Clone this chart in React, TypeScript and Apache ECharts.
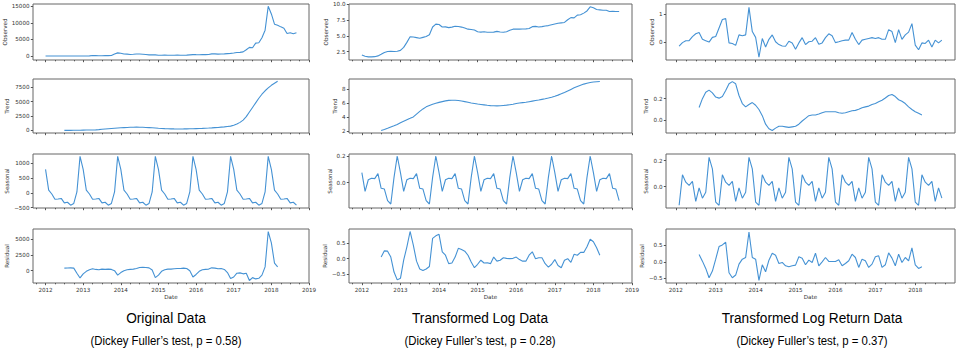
import React, { useEffect, useRef } from "react";
import * as echarts from "echarts";

// ---------- DATA (monthly, index 0 = Jan 2012) ----------
const yearTicksFull = [2012, 2013, 2014, 2015, 2016, 2017, 2018, 2019];
const yearTicksShort = [2012, 2013, 2014, 2015, 2016, 2017, 2018];
const quarterTicks = [
  2011.75, 2012.25, 2012.5, 2012.75, 2013.25, 2013.5, 2013.75, 2014.25, 2014.5, 2014.75,
  2015.25, 2015.5, 2015.75, 2016.25, 2016.5, 2016.75, 2017.25, 2017.5, 2017.75, 2018.25,
  2018.5, 2018.75,
];

// Original data (starts Jan 2012)
const origObserved = [
  6.5, 5.5, 5.0, 5.0, 5.1, 6.0, 8.5, 11.5, 12, 12, 11.5, 13,
  16, 26, 55, 140, 120, 105, 90, 115, 130, 160, 600, 950,
  850, 620, 580, 460, 520, 620, 610, 530, 450, 360, 365, 340,
  250, 235, 265, 235, 235, 240, 280, 255, 235, 265, 350, 425,
  410, 400, 415, 430, 460, 640, 660, 580, 605, 640, 720, 800,
  900, 1050, 1100, 1250, 1900, 2600, 2500, 3900, 4000, 5500, 7800, 15000,
  12700, 9600, 9300, 8800, 8400, 6800, 7000, 6700, 7000,
];
// starts Jul 2012
const origTrend = [
  10, 12, 15, 20, 30, 40,
  55, 65, 75, 85, 100, 140, 190, 240, 290, 340, 380, 420,
  460, 490, 520, 540, 560, 565, 560, 545, 520, 490, 455, 420,
  380, 345, 315, 290, 270, 260, 255, 255, 260, 270, 285, 300,
  320, 340, 360, 385, 410, 440, 480, 520, 570, 620, 690, 750,
  900, 1100, 1400, 1800, 2400, 3200, 4000, 4800, 5600, 6300, 6900, 7400,
  7850, 8200, 8550,
];
// starts Jan 2012
const origSeasonal = [
  800, 90, -40, -220, -210, -190, -340, -320, -420, -360, 30, 1240,
  800, 90, -40, -220, -210, -190, -340, -320, -420, -360, 30, 1240,
  800, 90, -40, -220, -210, -190, -340, -320, -420, -360, 30, 1240,
  800, 90, -40, -220, -210, -190, -340, -320, -420, -360, 30, 1240,
  800, 90, -40, -220, -210, -190, -340, -320, -420, -360, 30, 1240,
  800, 90, -40, -220, -210, -190, -340, -320, -420, -360, 30, 1240,
  800, 90, -40, -220, -210, -190, -340, -320, -420,
];
// starts Jul 2012
const origResidual = [
  400, 420, 450, 400, -400, -1150,
  -500, -100, 150, 300, 200, 150, 250, 200, 250, 200, 0, -700,
  -300, 0, 150, 200, 250, 350, 500, 550, 500, 450, 100, -1100,
  -700, -100, 150, 250, 250, 300, 350, 350, 400, 350, 0, -1000,
  -600, -100, 150, 200, 250, 450, 400, 300, 350, 200, -300, -1250,
  -1000, -400, -350, -500, -400, -1550, -1100, -1300, -1200, -700, 600, 6200,
  4400, 1200, 600,
];

// Transformed log data (starts Jan 2012)
const logObserved = [
  1.95, 1.75, 1.65, 1.65, 1.68, 1.8, 2.05, 2.35, 2.5, 2.52, 2.5, 2.55,
  2.68, 3.15, 3.95, 4.85, 4.8, 4.7, 4.6, 4.75, 4.9, 5.15, 6.4, 6.85,
  6.8, 6.4, 6.42, 6.3, 6.38, 6.5, 6.48, 6.38, 6.22, 6.05, 6.0, 5.92,
  5.65, 5.58, 5.65, 5.55, 5.55, 5.58, 5.7, 5.6, 5.55, 5.65, 5.88, 6.05,
  6.05, 6.05, 6.07, 6.1, 6.15, 6.45, 6.5, 6.4, 6.45, 6.55, 6.62, 6.75,
  6.88, 6.98, 7.05, 7.12, 7.55, 7.88, 7.85, 8.28, 8.35, 8.6, 8.95, 9.6,
  9.45, 9.18, 9.12, 9.05, 9.05, 8.85, 8.9, 8.85, 8.87,
];
// starts Jul 2012
const logTrend = [
  2.1, 2.25, 2.42, 2.6, 2.78, 2.98,
  3.22, 3.45, 3.66, 3.85, 4.05, 4.45, 4.85, 5.2, 5.5, 5.7, 5.88, 6.02,
  6.14, 6.25, 6.35, 6.42, 6.45, 6.45, 6.4, 6.33, 6.25, 6.15, 6.05, 5.98,
  5.9, 5.84, 5.78, 5.72, 5.68, 5.65, 5.64, 5.66, 5.7, 5.74, 5.8, 5.86,
  5.98, 6.04, 6.1, 6.16, 6.24, 6.32, 6.4, 6.48, 6.57, 6.66, 6.76, 6.88,
  7.02, 7.18, 7.36, 7.56, 7.78, 8.0, 8.22, 8.42, 8.6, 8.76, 8.88, 8.98,
  9.05, 9.1, 9.14,
];
// starts Jan 2012
const logSeasonal = [
  0.075, -0.065, 0.022, 0.033, 0.03, 0.068, -0.042, -0.048, -0.135, -0.16, 0.04, 0.2,
  0.075, -0.065, 0.022, 0.033, 0.03, 0.068, -0.042, -0.048, -0.135, -0.16, 0.04, 0.2,
  0.075, -0.065, 0.022, 0.033, 0.03, 0.068, -0.042, -0.048, -0.135, -0.16, 0.04, 0.2,
  0.075, -0.065, 0.022, 0.033, 0.03, 0.068, -0.042, -0.048, -0.135, -0.16, 0.04, 0.2,
  0.075, -0.065, 0.022, 0.033, 0.03, 0.068, -0.042, -0.048, -0.135, -0.16, 0.04, 0.2,
  0.075, -0.065, 0.022, 0.033, 0.03, 0.068, -0.042, -0.048, -0.135, -0.16, 0.04, 0.2,
  0.075, -0.065, 0.022, 0.033, 0.03, 0.068, -0.042, -0.048, -0.135,
];
// starts Jul 2012
const logResidual = [
  0.05, 0.25, 0.24, 0.05, -0.43, -0.68,
  -0.63, -0.05, 0.38, 0.87, 0.43, -0.08, -0.33, -0.38, -0.33, -0.25, 0.65, 0.73,
  0.78, 0.22, 0.11, -0.16, -0.14, 0.05, 0.33, 0.29, 0.24, 0.11, -0.11, -0.29,
  -0.18, -0.05, -0.14, -0.13, -0.16, 0.05, -0.08, -0.05, 0.03, 0.01, 0, 0.01,
  0.05, -0.03, -0.08, -0.08, 0.11, 0.22, 0, 0.03, 0.03, -0.16, -0.27, -0.18,
  -0.03, -0.22, -0.29, -0.05, 0, -0.12, 0.14, 0.11, 0.2, 0.2, 0.38, 0.62,
  0.54, 0.35, 0.11,
];

// Transformed log return data (starts Feb 2012)
const retObserved = [
  -0.16, -0.03, 0.04, 0.04, 0.19, 0.29, 0.34, 0.09, 0.04, -0.01, 0.16,
  0.19, 0.5, 0.81, 0.84, -0.04, -0.06, -0.13, 0.25, 0.22, 0.25, 1.25, 0.37,
  0.16, -0.56, 0.12, -0.19, 0.09, 0.25, 0, -0.1, -0.15, -0.16, 0.02, -0.04,
  -0.27, -0.04, 0.15, -0.1, 0, 0.02, 0.15, -0.09, -0.04, 0.15, 0.29, 0.22,
  -0.03, 0, 0.04, 0.06, 0.06, 0.34, 0.09, -0.1, 0.06, 0.09, 0.12, 0.15,
  0.12, 0.15, 0.09, 0.09, 0.44, 0.37, -0.03, 0.44, 0.09, 0.25, 0.35, 0.66,
  -0.12, -0.29, -0.04, -0.06, 0.06, -0.19, 0.06, -0.04, 0.06,
];
// starts Aug 2012
const retTrend = [
  0.117, 0.2, 0.26, 0.28, 0.255,
  0.215, 0.205, 0.22, 0.277, 0.34, 0.36, 0.34, 0.23, 0.154, 0.123, 0.145, 0.163,
  0.138, 0.098, 0.04, -0.04, -0.083, -0.1, -0.077, -0.06, -0.06, -0.065, -0.07, -0.065,
  -0.06, -0.04, -0.01, 0.015, 0.04, 0.046, 0.046, 0.055, 0.068, 0.077, 0.077, 0.077,
  0.077, 0.068, 0.062, 0.068, 0.077, 0.086, 0.09, 0.1, 0.114, 0.123, 0.13, 0.145,
  0.154, 0.17, 0.185, 0.206, 0.23, 0.24, 0.22, 0.19, 0.175, 0.154, 0.123, 0.098,
  0.077, 0.062, 0.046,
];
// starts Feb 2012
const retSeasonal = [
  -0.145, 0.09, 0.033, 0.008, 0.04, -0.115, -0.01, -0.09, -0.044, 0.225, 0.136,
  -0.12, -0.145, 0.09, 0.033, 0.008, 0.04, -0.115, -0.01, -0.09, -0.044, 0.225, 0.136,
  -0.12, -0.145, 0.09, 0.033, 0.008, 0.04, -0.115, -0.01, -0.09, -0.044, 0.225, 0.136,
  -0.12, -0.145, 0.09, 0.033, 0.008, 0.04, -0.115, -0.01, -0.09, -0.044, 0.225, 0.136,
  -0.12, -0.145, 0.09, 0.033, 0.008, 0.04, -0.115, -0.01, -0.09, -0.044, 0.225, 0.136,
  -0.12, -0.145, 0.09, 0.033, 0.008, 0.04, -0.115, -0.01, -0.09, -0.044, 0.225, 0.136,
  -0.12, -0.145, 0.09, 0.033, 0.008, 0.04, -0.115, -0.01, -0.09,
];
// starts Aug 2012
const retResidual = [
  0.22, 0.02, -0.2, -0.48, -0.28,
  0.08, 0.46, 0.51, 0.59, -0.33, -0.48, -0.4, -0.07, 0.08, 0.13, 0.9, 0.13,
  0.08, -0.56, -0.09, -0.3, 0.05, 0.26, 0.2, -0.05, -0.02, -0.12, -0.15, -0.12,
  -0.1, 0.15, 0.11, -0.09, 0.05, -0.02, 0.26, -0.12, 0, 0.13, 0.01, 0.01,
  0.01, 0.06, -0.12, -0.05, 0.03, 0.23, 0.13, -0.17, 0.08, 0.03, -0.17, -0.07,
  0.15, 0.18, -0.17, -0.09, 0.27, 0.11, -0.12, 0.23, -0.02, 0.13, 0.03, 0.42,
  -0.09, -0.2, -0.15,
];

const rowNames = ["Observed", "Trend", "Seasonal", "Residual"];
const columnTitles = ["Original Data", "Transformed Log Data", "Transformed Log Return Data"];
const columnSubtitles = [
  "(Dickey Fuller\u2019s test, p = 0.58)",
  "(Dickey Fuller\u2019s test, p = 0.28)",
  "(Dickey Fuller\u2019s test, p = 0.37)",
];

type Panel = {
  values: number[];
  start: number; // month index of first value
  min: number;
  max: number;
  ticks: number[];
  decimals: number;
  nameGap: number;
};

const columns: { xMin: number; xMax: number; years: number[]; panels: Panel[] }[] = [
  {
    xMin: 2011.6667, xMax: 2019.0, years: yearTicksFull,
    panels: [
      { values: origObserved, start: 0, min: -1200, max: 15700, ticks: [0, 5000, 10000, 15000], decimals: 0, nameGap: 25 },
      { values: origTrend, start: 6, min: -450, max: 8950, ticks: [0, 2500, 5000, 7500], decimals: 0, nameGap: 23 },
      { values: origSeasonal, start: 0, min: -515, max: 1320, ticks: [-500, 0, 500, 1000], decimals: 0, nameGap: 23.5 },
      { values: origResidual, start: 6, min: -1950, max: 6600, ticks: [0, 2500, 5000], decimals: 0, nameGap: 23 },
    ],
  },
  {
    xMin: 2011.6667, xMax: 2019.0, years: yearTicksFull,
    panels: [
      { values: logObserved, start: 0, min: 1.15, max: 10.05, ticks: [2.5, 5.0, 7.5, 10.0], decimals: 1, nameGap: 18 },
      { values: logTrend, start: 6, min: 1.75, max: 9.49, ticks: [2, 4, 6, 8], decimals: 0, nameGap: 10 },
      { values: logSeasonal, start: 0, min: -0.19, max: 0.215, ticks: [0.0, 0.2], decimals: 1, nameGap: 15 },
      { values: logResidual, start: 6, min: -0.78, max: 0.95, ticks: [-0.5, 0.0, 0.5], decimals: 1, nameGap: 20.5 },
    ],
  },
  {
    xMin: 2011.7542, xMax: 2018.9958, years: yearTicksShort,
    panels: [
      { values: retObserved, start: 1, min: -0.66, max: 1.37, ticks: [0, 1], decimals: 0, nameGap: 11.5 },
      { values: retTrend, start: 7, min: -0.123, max: 0.385, ticks: [0.0, 0.2], decimals: 1, nameGap: 17.5 },
      { values: retSeasonal, start: 1, min: -0.166, max: 0.251, ticks: [0.0, 0.2], decimals: 1, nameGap: 17.5 },
      { values: retResidual, start: 7, min: -0.64, max: 0.99, ticks: [-0.5, 0.0, 0.5], decimals: 1, nameGap: 20.5 },
    ],
  },
];

// ---------- LAYOUT ----------
const colBoxes = [
  { left: 33, width: 276 },
  { left: 349, width: 283 },
  { left: 666, width: 289 },
];
const rowBoxes = [
  { top: 4, height: 56 },
  { top: 79, height: 54 },
  { top: 154, height: 54 },
  { top: 229, height: 54 },
];
const titleCenters = [166, 480, 812];

const LINE_COLOR = "#4592d4";
const TEXT_COLOR = "#333";
const AXIS_COLOR = "#555";
const FONT = "DejaVu Sans";
const FS = 5.6;

const fmt = (v: number, d: number) => {
  const s = Math.abs(v) < 1e-9 ? (0).toFixed(d) : v.toFixed(d);
  return s.replace("-", "\u2212");
};

function buildOption() {
  const grid: any[] = [];
  const xAxis: any[] = [];
  const yAxis: any[] = [];
  const series: any[] = [];

  columns.forEach((col, c) => {
    col.panels.forEach((p, r) => {
      const g = c * 4 + r;
      grid.push({
        left: colBoxes[c].left,
        top: rowBoxes[r].top,
        width: colBoxes[c].width,
        height: rowBoxes[r].height,
        show: true,
        borderColor: "#666",
        borderWidth: 1,
        backgroundColor: "transparent",
        containLabel: false,
      });
      const isBottom = r === 3;
      xAxis.push({
        type: "value",
        gridIndex: g,
        position: "bottom",
        min: col.xMin,
        max: col.xMax,
        axisLine: { show: false, onZero: false },
        splitLine: { show: false },
        axisTick: { show: true, customValues: col.years, length: 2.2, lineStyle: { color: AXIS_COLOR, width: 1 } },
        axisLabel: {
          show: isBottom,
          customValues: col.years,
          formatter: (v: number) => String(Math.round(v)),
          fontSize: FS,
          fontFamily: FONT,
          color: TEXT_COLOR,
          margin: 4,
        },
        name: isBottom ? "Date" : "",
        nameLocation: "middle",
        nameGap: 11,
        nameTextStyle: { fontSize: FS, fontFamily: FONT, color: TEXT_COLOR },
      });
      xAxis.push({
        type: "value",
        gridIndex: g,
        position: "bottom",
        min: col.xMin,
        max: col.xMax,
        axisLine: { show: false, onZero: false },
        splitLine: { show: false },
        axisTick: { show: true, customValues: quarterTicks.filter((q) => q > col.xMin && q < col.xMax), length: 1.3, lineStyle: { color: AXIS_COLOR, width: 1 } },
        axisLabel: { show: false },
      });
      yAxis.push({
        type: "value",
        gridIndex: g,
        position: "left",
        min: p.min,
        max: p.max,
        axisLine: { show: false, onZero: false },
        splitLine: { show: false },
        axisTick: { show: true, customValues: p.ticks, length: 2.2, lineStyle: { color: AXIS_COLOR, width: 1 } },
        axisLabel: {
          customValues: p.ticks,
          formatter: (v: number) => fmt(v, p.decimals),
          fontSize: FS,
          fontFamily: FONT,
          color: TEXT_COLOR,
          margin: 3.5,
        },
        name: rowNames[r],
        nameLocation: "middle",
        nameRotate: 90,
        nameGap: p.nameGap,
        nameTextStyle: { fontSize: FS, fontFamily: FONT, color: TEXT_COLOR },
      });
      series.push({
        type: "line",
        xAxisIndex: g * 2,
        yAxisIndex: g,
        data: p.values.map((v, i) => [2012 + (p.start + i) / 12, v]),
        showSymbol: false,
        symbol: "none",
        silent: true,
        lineStyle: { width: 1.1, color: LINE_COLOR },
      });
    });
  });

  const graphic: any[] = [];
  titleCenters.forEach((cx, c) => {
    graphic.push({
      type: "text",
      x: cx,
      y: 318,
      scaleX: 0.91,
      style: {
        text: columnTitles[c],
        fill: "#000",
        font: "15px 'Liberation Sans', sans-serif",
        textAlign: "center",
        textVerticalAlign: "middle",
      },
    });
    graphic.push({
      type: "text",
      x: cx,
      y: 340,
      scaleX: 0.95,
      style: {
        text: columnSubtitles[c],
        fill: "#000",
        font: "12px 'Liberation Sans', sans-serif",
        textAlign: "center",
        textVerticalAlign: "middle",
      },
    });
  });

  return {
    animation: false,
    backgroundColor: "#fff",
    grid,
    xAxis,
    yAxis,
    series,
    graphic,
  };
}

export default function App() {
  const ref = useRef<HTMLDivElement>(null);
  useEffect(() => {
    if (!ref.current) return;
    const chart = echarts.init(ref.current, undefined, { renderer: "svg" });
    chart.setOption(buildOption() as any);
    return () => chart.dispose();
  }, []);
  return (
    <div
      ref={ref}
      style={{ position: "fixed", left: 0, top: 0, width: 961, height: 351, background: "#fff" }}
    />
  );
}
